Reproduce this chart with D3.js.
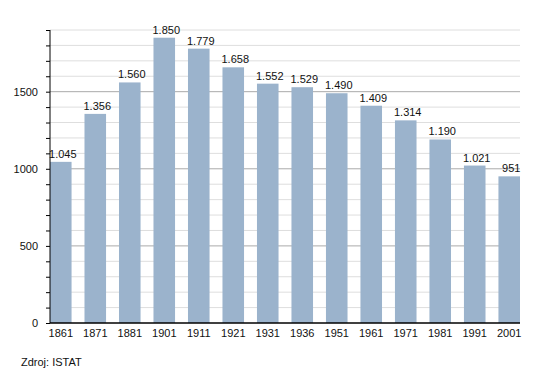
<!DOCTYPE html>
<html>
<head>
<meta charset="utf-8">
<script src="https://cdn.jsdelivr.net/npm/d3@7"></script>
<style>
  body { margin: 0; background: #fff; }
  text { font-family: "Liberation Sans", Arial, sans-serif; fill: #111; }
</style>
</head>
<body>
<div id="chart-area"></div>
<script>
// census years and population (ISTAT)
const years = ["1861", "1871", "1881", "1901", "1911", "1921", "1931", "1936", "1951", "1961", "1971", "1981", "1991", "2001"]
const population = [1045, 1356, 1560, 1850, 1779, 1658, 1552, 1529, 1490, 1409, 1314, 1190, 1021, 951]
const majorTicks = [0, 500, 1000, 1500]
const sourceText = "Zdroj: ISTAT"

const WIDTH = 550, HEIGHT = 373
const MARGIN = { LEFT: 50, RIGHT: 30, TOP: 30, BOTTOM: 50 }
const W = WIDTH - MARGIN.LEFT - MARGIN.RIGHT
const H = HEIGHT - MARGIN.TOP - MARGIN.BOTTOM

const data = years.map((y, i) => ({ year: y, value: population[i] }))

const svg = d3.select("#chart-area").append("svg")
  .attr("width", WIDTH)
  .attr("height", HEIGHT)

const g = svg.append("g")
  .attr("transform", `translate(${MARGIN.LEFT}, ${MARGIN.TOP})`)

// Scales
const x = d3.scaleBand()
  .domain(years)
  .range([0, W])
  .paddingInner(0.375)
  .paddingOuter(0)

const y = d3.scaleLinear()
  .domain([0, 1900])
  .range([H, 0])

// minor gridlines every 100
const minor = d3.range(100, 1901, 100).filter(v => v % 500 !== 0)
g.append("g")
  .selectAll("line")
  .data(minor)
  .enter().append("line")
    .attr("x1", 0).attr("x2", W)
    .attr("y1", d => y(d)).attr("y2", d => y(d))
    .attr("stroke", "#dedede")
    .attr("stroke-width", 1)

// major gridlines
g.append("g")
  .selectAll("line")
  .data(majorTicks.filter(v => v > 0))
  .enter().append("line")
    .attr("x1", 0).attr("x2", W)
    .attr("y1", d => y(d)).attr("y2", d => y(d))
    .attr("stroke", "#aaaaaa")
    .attr("stroke-width", 1)

// bars
g.selectAll("rect.bar")
  .data(data)
  .enter().append("rect")
    .attr("class", "bar")
    .attr("x", d => x(d.year))
    .attr("y", d => y(d.value))
    .attr("width", x.bandwidth())
    .attr("height", d => H - y(d.value))
    .attr("fill", "#9bb3cc")

// value labels (italian thousands separator)
const fmt = v => String(v).replace(/\B(?=(\d{3})+(?!\d))/g, ".")
g.selectAll("text.val")
  .data(data)
  .enter().append("text")
    .attr("class", "val")
    .attr("x", d => x(d.year) + x.bandwidth() / 2 + 2)
    .attr("y", d => y(d.value) - 4)
    .attr("text-anchor", "middle")
    .attr("font-size", "11px")
    .text(d => fmt(d.value))

// Y axis
const yAxisCall = d3.axisLeft(y)
  .tickValues(d3.range(0, 1901, 100))
  .tickSize(4)
  .tickFormat(d => majorTicks.includes(d) ? d : "")
const yAxis = g.append("g").call(yAxisCall)
yAxis.select(".domain").attr("d", `M0,${y(1900)}V${H}`).attr("stroke", "#000")
yAxis.selectAll(".tick line").attr("stroke", "#000")
yAxis.selectAll(".tick text")
  .attr("x", -12)
  .style("font-size", "11px")
  .style("font-family", "Liberation Sans, Arial, sans-serif")

// X axis
const xAxisCall = d3.axisBottom(x).tickSize(0).tickPadding(6)
const xAxis = g.append("g")
  .attr("transform", `translate(0, ${H})`)
  .call(xAxisCall)
xAxis.select(".domain").attr("d", `M0,0H${W}`).attr("stroke", "#000").attr("stroke-width", 1.5)
xAxis.selectAll(".tick text")
  .style("font-size", "11px")
  .style("font-family", "Liberation Sans, Arial, sans-serif")

// source note
svg.append("text")
  .attr("x", 21)
  .attr("y", 366)
  .attr("font-size", "11px")
  .text(sourceText)
</script>
</body>
</html>
